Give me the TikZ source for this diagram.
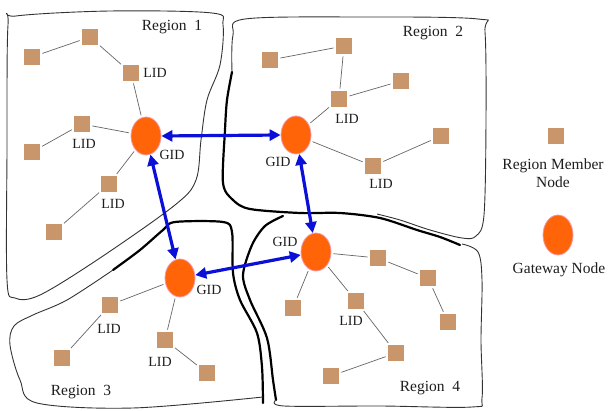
\documentclass[tikz,border=0pt]{standalone}
\usepackage{fontspec}
\setmainfont{Liberation Serif}
\usetikzlibrary{arrows.meta,shapes.geometric}
\definecolor{membc}{HTML}{C8966A}
\definecolor{gatec}{HTML}{FF6408}
\definecolor{gateb}{HTML}{F59AA8}
\definecolor{arrc}{HTML}{0A10D8}
\definecolor{linkc}{HTML}{666666}
\definecolor{bordc}{HTML}{333333}
\definecolor{txtc}{HTML}{1E1E1E}
\begin{document}
\begin{tikzpicture}[x=1pt,y=-1pt,
  memb/.style={rectangle, fill=membc, minimum size=16.5pt, inner sep=0pt},
  gate/.style={ellipse, fill=gatec, draw=gateb, line width=0.8pt, minimum width=30pt, minimum height=38pt, inner sep=0pt},
  lbl/.style={font=\fontsize{14}{16}\selectfont, text=txtc, inner sep=0pt},
  rlbl/.style={font=\fontsize{15.5}{18}\selectfont, text=txtc, inner sep=0pt},
  link/.style={draw=linkc, line width=0.7pt, shorten <=2pt, shorten >=2pt},
  garrow/.style={draw=arrc, line width=3.2pt, {Triangle[length=11pt,width=11pt]}-{Triangle[length=11pt,width=11pt]}},
  thinb/.style={draw=bordc, line width=0.9pt},
  thickb/.style={draw=black, line width=2.2pt, line join=round, line cap=round}]
\useasboundingbox (0,0) rectangle (608,411);
\fill[white] (0,0) rectangle (608,411);

% region boundaries
\draw[thinb] plot[smooth cycle, tension=0.55] coordinates {(8,25) (16,16) (110,11) (212,13) (223,25) (220,65) (207,100) (201,140) (196,180) (175,205) (100,258) (40,295) (15,298) (7,280) (7,150)};
\draw[thinb] plot[smooth, tension=0.55] coordinates {(232,72) (233,35) (245,19) (360,17) (478,19) (485,32) (486,120) (484,215) (476,236) (462,238) (430,230) (400,220) (377,214)};
\draw[thickb] plot[smooth, tension=0.5] coordinates {(232,72) (227,100) (225,130) (223,183) (233,200) (250,209) (300,213) (340,213) (380,218) (417,230) (440,237) (460,245)};
\draw[thickb] plot[smooth, tension=0.5] coordinates {(113,270) (140,250) (163,230) (175,222) (223,222) (232,232) (233,273) (240,300) (257,333) (262,367) (263,403)};
\draw[thinb] plot[smooth, tension=0.55] coordinates {(113,270) (67,300) (33,315) (14,326) (10,345) (20,380) (37,403) (133,408) (263,397)};
\draw[thickb] plot[smooth, tension=0.5] coordinates {(283,216) (265,226) (252,245) (243,275) (250,300) (267,338) (273,380) (276,400)};
\draw[thinb] plot[smooth, tension=0.55] coordinates {(276,400) (284,406) (380,406) (472,407) (482,398) (481,340) (482,280) (478,252) (462,244)};

% region 1
\node[gate] (g1) at (146,136) {};
\node[memb] (s11) at (90,37) {};
\node[memb] (s12) at (32,57) {};
\node[memb] (s13) at (131,73) {};
\node[memb] (s14) at (82,124) {};
\node[memb] (s15) at (32,152) {};
\node[memb] (s16) at (109,184) {};
\node[memb] (s17) at (54,232) {};
\draw[link] (s11) -- (s12);
\draw[link] (s11) -- (s13);
\draw[link] (s13) -- (g1);
\draw[link] (s14) -- (g1);
\draw[link] (s14) -- (s15);
\draw[link] (s16) -- (g1);
\draw[link] (s16) -- (s17);
\node[lbl] (l11) at (155,73) {LID};
\node[lbl] (l12) at (84,144) {LID};
\node[lbl] (l13) at (113,204) {LID};
\node[lbl] (gl1) at (172,155) {GID};
\node[rlbl] (r1) at (172,27) {Region\ \ 1};

% region 2
\node[gate] (g2) at (296,135) {};
\node[memb] (s21) at (270,60) {};
\node[memb] (s22) at (344,46) {};
\node[memb] (s23) at (401,81) {};
\node[memb] (s24) at (339,99) {};
\node[memb] (s25) at (373,166) {};
\node[memb] (s26) at (441,136) {};
\draw[link] (s21) -- (s22);
\draw[link] (s22) -- (s24);
\draw[link] (s24) -- (s23);
\draw[link] (s24) -- (g2);
\draw[link] (g2) -- (s25);
\draw[link] (s25) -- (s26);
\node[lbl] (l21) at (347,119) {LID};
\node[lbl] (l22) at (381,184) {LID};
\node[lbl] (gl2) at (278,162) {GID};
\node[rlbl] (r2) at (433,33) {Region\ \ 2};

% region 3
\node[gate] (g3) at (180,278) {};
\node[memb] (s31) at (110,305) {};
\node[memb] (s32) at (62,358) {};
\node[memb] (s33) at (165,340) {};
\node[memb] (s34) at (207,373) {};
\draw[link] (g3) -- (s31);
\draw[link] (s31) -- (s32);
\draw[link] (g3) -- (s33);
\draw[link] (s33) -- (s34);
\node[lbl] (l31) at (109,329) {LID};
\node[lbl] (l32) at (160,362) {LID};
\node[lbl] (gl3) at (209,290) {GID};
\node[rlbl] (r3) at (81,392) {Region\ \ 3};

% region 4
\node[gate] (g4) at (316,252) {};
\node[memb] (s41) at (378,258) {};
\node[memb] (s42) at (428,278) {};
\node[memb] (s43) at (448,322) {};
\node[memb] (s44) at (293,308) {};
\node[memb] (s45) at (356,301) {};
\node[memb] (s46) at (396,353) {};
\node[memb] (s47) at (331,376) {};
\draw[link] (g4) -- (s41);
\draw[link] (s41) -- (s42);
\draw[link] (s42) -- (s43);
\draw[link] (g4) -- (s44);
\draw[link] (g4) -- (s45);
\draw[link] (s45) -- (s46);
\draw[link] (s46) -- (s47);
\node[lbl] (l41) at (351,321) {LID};
\node[lbl] (gl4) at (285,242) {GID};
\node[rlbl] (r4) at (430,388) {Region\ \ 4};

% gateway links
\draw[garrow] (g1.east) -- (g2.west);
\draw[garrow] (g1) -- (g3);
\draw[garrow] (g3) -- (g4);
\draw[garrow] (g2) -- (g4);

% legend
\node[memb] (lm) at (556,136) {};
\node[rlbl, align=center] (lmt) at (553,173) {Region Member\\Node};
\node[gate, minimum height=40pt] (lg) at (558,235) {};
\node[rlbl] (lgt) at (559,270) {Gateway Node};
\end{tikzpicture}
\end{document}
